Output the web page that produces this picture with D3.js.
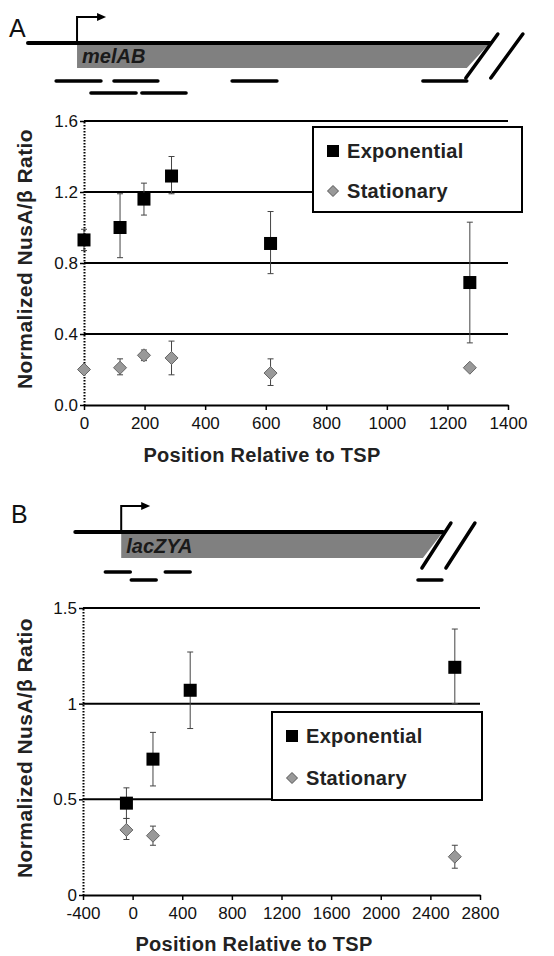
<!DOCTYPE html>
<html>
<head>
<meta charset="utf-8">
<script src="https://cdn.jsdelivr.net/npm/d3@7"></script>
<style>
  body { margin: 0; background: #fff; }
  svg { display: block; font-family: "Liberation Sans", Arial, sans-serif; }
</style>
</head>
<body>
<svg id="chart"></svg>
<script>
// panel A (melAB)
const posA = [0, 119, 198, 289, 616, 1274];
const expA = [0.93, 1.00, 1.16, 1.29, 0.91, 0.69];
const expAHi = [0.99, 1.19, 1.25, 1.40, 1.09, 1.03];
const expALo = [0.87, 0.83, 1.07, 1.19, 0.74, 0.35];
const statA = [0.20, 0.21, 0.28, 0.265, 0.18, 0.21];
const statAHi = [0.20, 0.26, 0.31, 0.36, 0.26, 0.22];
const statALo = [0.20, 0.17, 0.25, 0.17, 0.11, 0.20];
const xTicksA = [0, 200, 400, 600, 800, 1000, 1200, 1400];
const yTicksA = [0, 0.4, 0.8, 1.2, 1.6];
// gene diagram A, in position units
const geneA = { lineStart: -185, start: -23, end: 1340, name: 'melAB' };
const ampliconsA = [[-92, 56, 0], [99, 244, 0], [489, 637, 0], [1119, 1264, 0], [23, 172, 1], [191, 337, 1]];

// panel B (lacZYA)
const posBExp = [-50, 164, 464, 2597];
const expB = [0.48, 0.71, 1.07, 1.19];
const expBHi = [0.56, 0.85, 1.27, 1.39];
const expBLo = [0.40, 0.57, 0.87, 1.00];
const posBStat = [-50, 164, 2597];
const statB = [0.34, 0.31, 0.20];
const statBHi = [0.40, 0.36, 0.26];
const statBLo = [0.29, 0.26, 0.14];
const xTicksB = [-400, 0, 400, 800, 1200, 1600, 2000, 2400, 2800];
const yTicksB = [0, 0.5, 1, 1.5];
const geneB = { lineStart: -462, start: -92, end: 2501, name: 'lacZYA' };
const ampliconsB = [[-220, -19, 0], [263, 464, 0], [-11, 190, 1], [2300, 2493, 1]];

const seriesNames = ['Exponential', 'Stationary'];

const width = 554, height = 956;
const svg = d3.select('#chart').attr('width', width).attr('height', height);

function drawPanel(p) {
  const g = svg.append('g');
  const x = d3.scaleLinear().domain(p.xDomain).range(p.xRange);
  const y = d3.scaleLinear().domain(p.yDomain).range(p.yRange);

  // panel letter
  g.append('text').attr('x', p.letterX).attr('y', p.letterY)
    .attr('font-size', 25).attr('fill', '#111').text(p.letter);

  // gene diagram
  const gy = p.geneY, gh = p.geneH, slant = p.slant;
  g.append('path')
    .attr('d', `M${x(p.gene.start)},${gy} L${x(p.gene.end)},${gy} L${x(p.gene.end) - slant},${gy + gh} L${x(p.gene.start)},${gy + gh} Z`)
    .attr('fill', '#808080');
  g.append('line')
    .attr('x1', x(p.gene.lineStart)).attr('x2', x(p.gene.end))
    .attr('y1', gy).attr('y2', gy)
    .attr('stroke', '#000').attr('stroke-width', 4).attr('stroke-linecap', 'round');
  g.append('text').attr('x', x(p.gene.start) + 5).attr('y', gy + gh - 5)
    .attr('font-size', 20).attr('font-weight', 'bold').attr('font-style', 'italic')
    .attr('fill', '#1a1a1a').text(p.gene.name);
  // promoter arrow
  const ax = x(p.gene.start);
  g.append('path')
    .attr('d', `M${ax},${gy} L${ax},${gy - p.arrowH} L${ax + 22},${gy - p.arrowH}`)
    .attr('fill', 'none').attr('stroke', '#000').attr('stroke-width', 2);
  g.append('path')
    .attr('d', `M${ax + 29},${gy - p.arrowH} l-9,-4 l0,8 Z`).attr('fill', '#000');
  // break marks
  [0, p.breakGap].forEach(off => {
    g.append('line')
      .attr('x1', x(p.gene.end) + 8 + off).attr('y1', gy - 9)
      .attr('x2', x(p.gene.end) - slant - 1 + off).attr('y2', gy + gh + 10)
      .attr('stroke', '#000').attr('stroke-width', 3.5).attr('stroke-linecap', 'round');
  });
  // amplicons
  g.selectAll('.amp').data(p.amplicons).join('line')
    .attr('x1', d => x(d[0])).attr('x2', d => x(d[1]))
    .attr('y1', d => p.ampY[d[2]]).attr('y2', d => p.ampY[d[2]])
    .attr('stroke', '#000').attr('stroke-width', 3.5).attr('stroke-linecap', 'round');

  // gridlines
  g.selectAll('.grid').data(p.yTicks.slice(1)).join('line')
    .attr('x1', p.xRange[0]).attr('x2', p.xRange[1])
    .attr('y1', d => y(d)).attr('y2', d => y(d))
    .attr('stroke', '#000').attr('stroke-width', 2);

  // x axis
  const xa = g.append('g').attr('transform', `translate(0,${p.yRange[0]})`)
    .call(d3.axisBottom(x).tickValues(p.xTicks).tickFormat(d => String(d))
      .tickSize(5).tickSizeOuter(0).tickPadding(7));
  xa.select('.domain').attr('stroke-width', 2);
  xa.selectAll('.tick line').attr('stroke-width', 1.5);
  xa.selectAll('text').attr('font-size', 17).attr('fill', '#111');

  // y axis
  const ya = g.append('g').attr('transform', `translate(${p.xRange[0]},0)`)
    .call(d3.axisLeft(y).tickValues(p.yTicks).tickFormat(p.yFormat).tickSize(4).tickSizeOuter(0).tickPadding(2));
  ya.select('.domain').attr('stroke-width', 2).attr('stroke-dasharray', '1.5,1.5');
  ya.selectAll('.tick line').attr('stroke-width', 1.5);
  ya.selectAll('text').attr('font-size', 17).attr('fill', '#111');

  // axis titles
  g.append('text').attr('x', p.xTitleX).attr('y', p.xTitleY)
    .attr('text-anchor', 'middle').attr('font-size', 20).attr('font-weight', 'bold')
    .attr('letter-spacing', 0.3).attr('fill', '#222').text('Position Relative to TSP');
  g.append('text')
    .attr('transform', `translate(${p.yTitleX},${p.yTitleY}) rotate(-90)`)
    .attr('text-anchor', 'middle').attr('font-size', 21).attr('font-weight', 'bold')
    .attr('letter-spacing', 0.4).attr('fill', '#222').text('Normalized NusA/β Ratio');

  // legend
  const L = p.legend;
  g.append('rect').attr('x', L.x).attr('y', L.y).attr('width', L.w).attr('height', L.h)
    .attr('fill', '#fff').attr('stroke', '#000').attr('stroke-width', 2);
  g.append('rect').attr('x', L.x + 14).attr('y', L.y + L.row1 - 6).attr('width', 12).attr('height', 12)
    .attr('fill', '#000');
  g.append('path').attr('transform', `translate(${L.x + 20},${L.y + L.row2})`)
    .attr('d', 'M0,-5.5 L5.5,0 L0,5.5 L-5.5,0 Z').attr('fill', '#999').attr('stroke', '#555');
  [L.row1, L.row2].forEach((r, i) => {
    g.append('text').attr('x', L.x + 34).attr('y', L.y + r + 7)
      .attr('font-size', 20).attr('font-weight', 'bold').attr('letter-spacing', 0.3)
      .attr('fill', '#222').text(seriesNames[i]);
  });

  // error bars and markers
  function errorBars(xs, lo, hi) {
    const eb = g.append('g').attr('stroke', '#444').attr('stroke-width', 1);
    xs.forEach((v, i) => {
      if (hi[i] - lo[i] < 0.015) return;
      eb.append('line').attr('x1', x(v)).attr('x2', x(v)).attr('y1', y(lo[i])).attr('y2', y(hi[i]));
      [lo[i], hi[i]].forEach(e => {
        eb.append('line').attr('x1', x(v) - 3).attr('x2', x(v) + 3).attr('y1', y(e)).attr('y2', y(e));
      });
    });
  }
  errorBars(p.statX, p.statLo, p.statHi);
  errorBars(p.expX, p.expLo, p.expHi);
  g.selectAll('.stat').data(p.statX).join('path')
    .attr('transform', (d, i) => `translate(${x(d)},${y(p.stat[i])})`)
    .attr('d', 'M0,-6.5 L6.5,0 L0,6.5 L-6.5,0 Z').attr('fill', '#999').attr('stroke', '#666');
  g.selectAll('.exp').data(p.expX).join('rect')
    .attr('x', d => x(d) - 6.5).attr('y', (d, i) => y(p.exp[i]) - 6.5)
    .attr('width', 13).attr('height', 13).attr('fill', '#000');
}

drawPanel({
  letter: 'A', letterX: 9, letterY: 37,
  xDomain: [0, 1400], xRange: [84, 508],
  yDomain: [0, 1.6], yRange: [405, 121],
  xTicks: xTicksA, yTicks: yTicksA, yFormat: d3.format('.1f'),
  gene: geneA, amplicons: ampliconsA,
  geneY: 43, geneH: 25, slant: 23, arrowH: 26, breakGap: 25, ampY: [81, 93],
  xTitleX: 262, xTitleY: 462, yTitleX: 32, yTitleY: 259,
  legend: { x: 313, y: 127, w: 209, h: 85, row1: 24, row2: 64 },
  expX: posA, exp: expA, expLo: expALo, expHi: expAHi,
  statX: posA, stat: statA, statLo: statALo, statHi: statAHi
});

drawPanel({
  letter: 'B', letterX: 11, letterY: 523,
  xDomain: [-400, 2800], xRange: [83, 480],
  yDomain: [0, 1.5], yRange: [895, 608],
  xTicks: xTicksB, yTicks: yTicksB, yFormat: d3.format('~g'),
  gene: geneB, amplicons: ampliconsB,
  geneY: 532, geneH: 26, slant: 20, arrowH: 26, breakGap: 24, ampY: [572, 580],
  xTitleX: 254, xTitleY: 951, yTitleX: 32, yTitleY: 748,
  legend: { x: 272, y: 712, w: 210, h: 88, row1: 24, row2: 66 },
  expX: posBExp, exp: expB, expLo: expBLo, expHi: expBHi,
  statX: posBStat, stat: statB, statLo: statBLo, statHi: statBHi
});
</script>
</body>
</html>
